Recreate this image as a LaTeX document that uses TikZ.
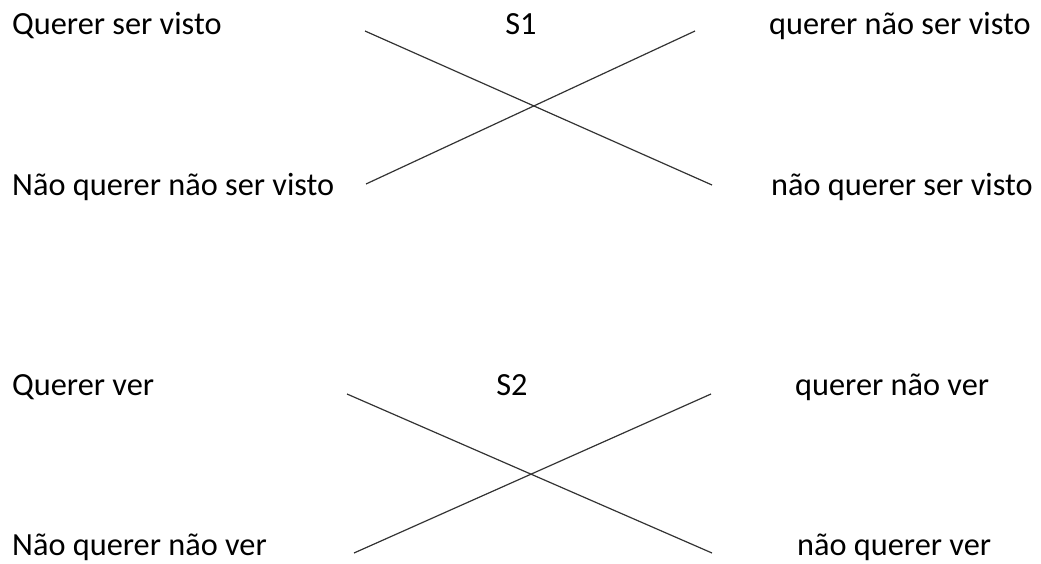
\documentclass[tikz,border=0pt]{standalone}
\usepackage{fontspec}
\setmainfont{Carlito}
\usetikzlibrary{positioning}

\begin{document}
\begin{tikzpicture}[x=1pt, y=-1pt,
    lbl/.style={anchor=base west, inner sep=0pt, font=\fontsize{32.3}{38}\selectfont},
    sname/.style={anchor=base, inner sep=0pt, font=\fontsize{32.3}{38}\selectfont},
    cross/.style={line width=1.2pt, black!80}]
    \useasboundingbox (0,0) rectangle (1041,563);
    % S1
    \node[lbl] (qsv) at (12,34) {Querer ser visto};
    \node[lbl] (nqnsv) at (12,195) {Não querer não ser visto};
    \node[sname] (s1) at (521,34) {S1};
    \node[lbl] (qnsv) at (769,34) {querer não ser visto};
    \node[lbl] (nqsv) at (771,195) {não querer ser visto};
    \coordinate (a1) at (365,31);
    \coordinate (a2) at (712,185);
    \coordinate (b1) at (366,184);
    \coordinate (b2) at (695,31);
    \draw[cross] (a1) -- (a2);
    \draw[cross] (b1) -- (b2);
    % S2
    \node[lbl] (qv) at (12,395) {Querer ver};
    \node[lbl] (nqnv) at (12,555) {Não querer não ver};
    \node[sname] (s2) at (512,395) {S2};
    \node[lbl] (qnv) at (795,395) {querer não ver};
    \node[lbl] (nqv) at (797,555) {não querer ver};
    \coordinate (c1) at (347,394);
    \coordinate (c2) at (712,553);
    \coordinate (d1) at (354,553);
    \coordinate (d2) at (711,394);
    \draw[cross] (c1) -- (c2);
    \draw[cross] (d1) -- (d2);
\end{tikzpicture}
\end{document}
